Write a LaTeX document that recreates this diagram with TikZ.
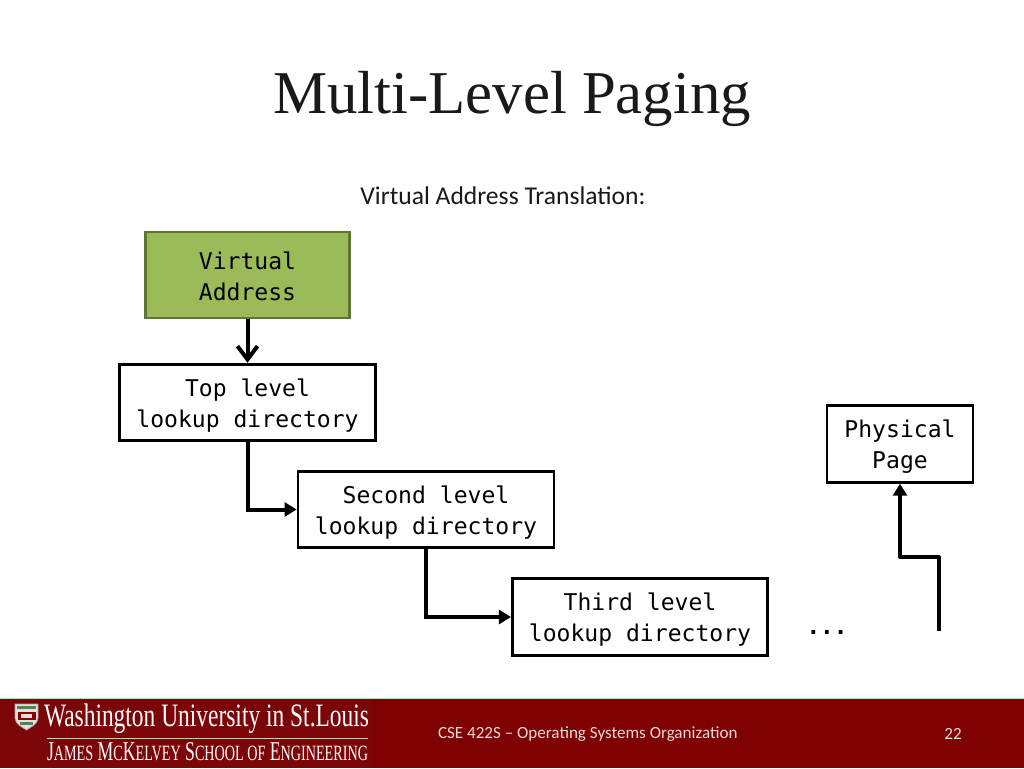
\documentclass[tikz,border=0pt]{standalone}
\usepackage{fontspec}
\usepackage{graphicx}
\usetikzlibrary{arrows.meta,calc}
\setmainfont{Carlito}
\setmonofont{DejaVu Sans Mono}
\newfontfamily\titlefont{Liberation Serif}
\newfontfamily\logofont{Liberation Serif}
\definecolor{wumaroon}{HTML}{7E0000}
\definecolor{logomaroon}{HTML}{7C0508}
\definecolor{vgreen}{HTML}{9BBB59}
\definecolor{vedge}{HTML}{5F7530}
\newcommand{\dropline}{\rule{0pt}{17.5pt}}
\newcommand{\dropgreen}{\rule{0pt}{15pt}}
\tikzset{
  x=0.75pt,y=-0.75pt,
  box/.style={draw=black,line width=2.1pt,fill=white,align=center,inner sep=0pt,
    font=\fontsize{17.3pt}{23pt}\selectfont\ttfamily},
  vbox/.style={box,draw=vedge,fill=vgreen},
  conn/.style={line width=3pt,draw=black,-{Triangle[length=9pt,width=10.5pt]}},
  openconn/.style={line width=3pt,draw=black,-{Straight Barb[length=10pt,width=15pt,line width=3pt]}},
  plain/.style={inner sep=0pt,outer sep=0pt},
}
\begin{document}
\begin{tikzpicture}
\useasboundingbox (0,0) rectangle (1024,768);
\fill[white] (0,0) rectangle (1024,768);
% footer
\fill[wumaroon] (0,699) rectangle (1024,768);
\fill[black!18] (0,698) rectangle (1024,699);
\fill[logomaroon] (0,700) rectangle (372,768);
% title and subtitle
\node[plain,text=black!90] (title) at (512,99) {\titlefont\fontsize{45.6pt}{50pt}\selectfont Multi-Level Paging};
\node[plain,text=black!90] (subtitle) at (503,196) {\fontsize{19.2pt}{22pt}\selectfont Virtual Address Translation:};
% boxes
\node[vbox,minimum width=153.5pt,minimum height=64.5pt] (va) at (247.5,275) {\dropgreen Virtual\\Address};
\node[box,minimum width=192pt,minimum height=57.5pt] (top) at (247.5,402.5) {\dropline Top level\\lookup directory};
\node[box,minimum width=192pt,minimum height=57.5pt] (second) at (426,509.5) {\dropline Second level\\lookup directory};
\node[box,minimum width=191.5pt,minimum height=57.5pt] (third) at (640,617) {\dropline Third level\\lookup directory};
\node[box,minimum width=109.5pt,minimum height=57.5pt] (phys) at (900,444) {\dropline Physical\\Page};
\node[plain] (dots) at (827,632) {\fontsize{17pt}{20pt}\selectfont\ttfamily\bfseries...};
\coordinate (free) at (938.5,631);
% connectors
\draw[openconn] (va.south) -- (top.north);
\draw[conn] (top.south) |- (second.west);
\draw[conn] (second.south) |- (third.west);
\draw[conn,line join=round] (free) -- (938.5,557) -- (900,557) -- (phys.south);
% footer texts
\node[plain,text=white!85!wumaroon,anchor=west] (course) at (438,734) {\fontsize{12.8pt}{14pt}\selectfont CSE 422S – Operating Systems Organization};
\node[plain,text=white!85!wumaroon] (page) at (953,734) {\fontsize{12.8pt}{14pt}\selectfont 22};
% logo
\begin{scope}[line width=0.5pt]
\path[fill=black!12,draw=black!35] (15,704) -- (38,704) -- (38,718) .. controls (38,724) and (31,727) .. (26.5,730) .. controls (22,727) and (15,724) .. (15,718) -- cycle;
\fill[red!55!black] (17.5,712) rectangle (35.5,720);
\fill[green!35!black!70] (17,706) rectangle (36,709);
\fill[green!35!black!70] (20,722) rectangle (33,724.5);
\fill[black!12] (21,714) rectangle (32,718);
\end{scope}
\node[plain,text=white,anchor=west] (wu) at (44,719) {\resizebox{243.75pt}{17pt}{\logofont Washington University in St.Louis}};
\fill[white!75!logomaroon] (47,737.5) rectangle (368,738.2);
\node[plain,text=white,anchor=west] (eng) at (47,751.5) {\resizebox{240.75pt}{13.5pt}{\logofont J{\footnotesize AMES} M{\footnotesize C}K{\footnotesize ELVEY} S{\footnotesize CHOOL OF} E{\footnotesize NGINEERING}}};
\end{tikzpicture}
\end{document}
